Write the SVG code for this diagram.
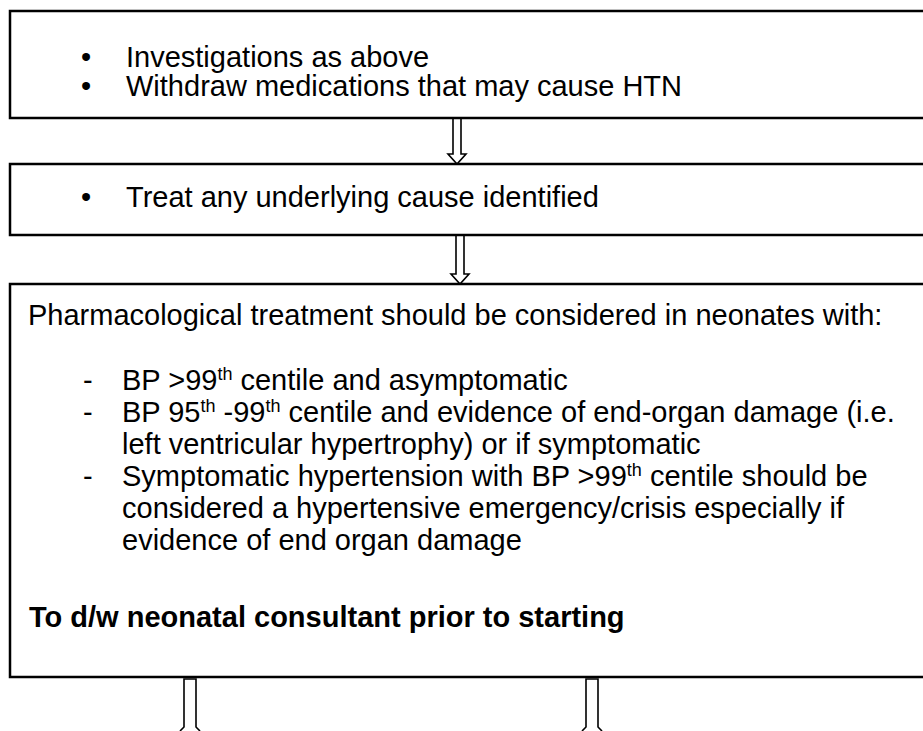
<svg xmlns="http://www.w3.org/2000/svg" width="923" height="731" viewBox="0 0 923 731">
<style>
.box{fill:#fff;stroke:#000;stroke-width:2.5}
.t{font-family:"Liberation Sans",Arial,sans-serif;font-size:29px;fill:#000}
.b{font-weight:bold}
.arr{fill:#fff;stroke:#000;stroke-width:1.6;stroke-linejoin:miter}
.sup{font-size:18px}
</style>
<rect width="923" height="731" fill="#fff"/>
<g id="connectors">
<path class="arr" d="M453,118 L453,154 L448,154 L457,164 L466,154 L461,154 L461,118 Z"/>
<path class="arr" d="M456,235 L456,274 L451,274 L460,284 L469,274 L464,274 L464,235 Z"/>
<path class="arr" fill="none" d="M180,731 L184,727 L184,679 L196,679 L196,727 L200,731"/>
<path class="arr" fill="none" d="M582,731 L586,727 L586,679 L598,679 L598,727 L602,731"/>
</g>
<g id="node1">
<path class="box" d="M925,11 L10,11 L10,118 L925,118"/>
<text class="t" x="81" y="67">•</text>
<text class="t" x="126" y="67">Investigations as above</text>
<text class="t" x="81" y="96">•</text>
<text class="t" x="126" y="96">Withdraw medications that may cause HTN</text>
</g>
<g id="node2">
<path class="box" d="M925,164 L10,164 L10,235 L925,235"/>
<text class="t" x="81" y="207">•</text>
<text class="t" x="126" y="207">Treat any underlying cause identified</text>
</g>
<g id="node3">
<path class="box" d="M925,284 L10,284 L10,677 L925,677"/>
<text class="t" x="28" y="325">Pharmacological treatment should be considered in neonates with:</text>
<text class="t" x="83" y="390">-</text>
<text class="t" x="122" y="390">BP &gt;99<tspan class="sup" dy="-10">th</tspan><tspan dy="10"> centile and asymptomatic</tspan></text>
<text class="t" x="83" y="422">-</text>
<text class="t" x="122" y="422">BP 95<tspan class="sup" dy="-10">th</tspan><tspan dy="10"> -99</tspan><tspan class="sup" dy="-10">th</tspan><tspan dy="10"> centile and evidence of end-organ damage (i.e.</tspan></text>
<text class="t" x="122" y="454">left ventricular hypertrophy) or if symptomatic</text>
<text class="t" x="83" y="486">-</text>
<text class="t" x="122" y="486">Symptomatic hypertension with BP &gt;99<tspan class="sup" dy="-10">th</tspan><tspan dy="10"> centile should be</tspan></text>
<text class="t" x="122" y="518">considered a hypertensive emergency/crisis especially if</text>
<text class="t" x="122" y="550">evidence of end organ damage</text>
<text class="t b" x="29" y="627">To d/w neonatal consultant prior to starting</text>
</g>
</svg>
